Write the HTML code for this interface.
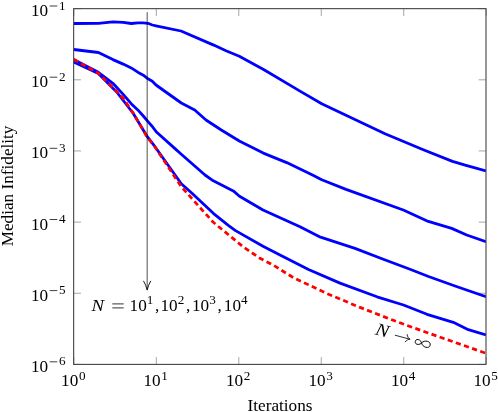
<!DOCTYPE html>
<html><head><meta charset="utf-8"><title>chart</title>
<style>
html,body{margin:0;padding:0;background:#fff;}
body{width:498px;height:412px;overflow:hidden;font-family:"Liberation Serif",serif;}
svg{display:block;will-change:transform;}
text{font-family:"Liberation Serif",serif;fill:#000;}
.t{font-size:17.2px;}
.s{font-size:13.2px;}
.d{font-size:17.2px;}
.m{font-size:17.2px;font-style:italic;}
</style></head><body>
<svg width="498" height="412" viewBox="0 0 498 412">
<rect x="0" y="0" width="498" height="412" fill="#fff"/>
<path d="M73.85,364.4v-7.3 M73.85,8.65v7.3 M73.65,8.65h7.3 M486.0,8.65h-7.3 M156.32,364.4v-7.3 M156.32,8.65v7.3 M73.65,79.80h7.3 M486.0,79.80h-7.3 M238.79,364.4v-7.3 M238.79,8.65v7.3 M73.65,150.95h7.3 M486.0,150.95h-7.3 M321.26,364.4v-7.3 M321.26,8.65v7.3 M73.65,222.10h7.3 M486.0,222.10h-7.3 M403.73,364.4v-7.3 M403.73,8.65v7.3 M73.65,293.25h7.3 M486.0,293.25h-7.3 M486.20,364.4v-7.3 M486.20,8.65v7.3 M73.65,364.40h7.3 M486.0,364.40h-7.3" stroke="#808080" stroke-width="0.7" fill="none"/>
<clipPath id="cp"><rect x="73.65" y="8.65" width="412.35" height="355.75"/></clipPath>
<g clip-path="url(#cp)" fill="none" stroke-linejoin="round">
<polyline points="73.6,23.5 98.4,23.3 112.9,21.8 123.2,22.3 131.2,23.5 137.8,22.8 143.3,22.8 148.0,23.3 152.3,25.0 156.0,25.8 181.0,31.0 213.7,45.1 226.0,50.8 239.3,56.3 264.0,69.7 300.0,91.1 321.7,103.8 385.0,133.7 423.3,149.8 452.5,161.4 466.0,165.3 486.0,171.0" stroke="#0000ff" stroke-width="2.8"/>
<polyline points="73.6,49.5 98.4,52.5 112.9,59.6 123.2,64.1 131.2,67.9 137.8,72.2 143.3,75.2 148.0,78.8 152.3,81.2 156.0,85.0 181.3,103.0 194.7,110.0 206.0,120.0 221.3,130.0 239.3,141.0 263.3,153.1 286.7,162.6 313.0,175.2 321.7,179.8 346.0,189.4 403.3,210.0 428.3,221.4 451.7,228.4 466.7,235.0 486.0,241.7" stroke="#0000ff" stroke-width="2.8"/>
<polyline points="73.6,59.4 98.4,72.3 112.9,83.3 123.2,94.4 131.2,103.7 137.8,109.9 143.3,116.0 148.0,121.6 152.3,126.5 156.7,132.3 175.0,148.6 181.3,154.2 205.0,175.0 213.3,180.8 233.3,190.9 239.5,196.2 263.0,210.0 300.0,226.7 320.5,237.2 355.0,248.4 383.3,259.2 410.0,269.2 428.5,276.5 455.0,286.0 486.0,296.7" stroke="#0000ff" stroke-width="2.8"/>
<polyline points="73.6,62.0 98.4,73.5 112.9,88.3 116.7,92.0 133.3,113.5 147.3,136.7 155.0,146.7 181.3,183.8 192.0,193.3 213.3,213.3 228.3,225.3 235.5,230.6 263.0,246.3 280.0,255.0 308.5,269.5 340.0,283.1 377.0,296.8 403.5,305.0 427.0,314.3 453.3,322.3 468.3,329.7 486.0,335.0" stroke="#0000ff" stroke-width="2.8"/>
<polyline points="73.6,59.3 98.4,73.3 112.9,87.5 123.2,98.3 133.3,113.3 147.0,136.7 155.0,147.0 181.3,186.7 213.0,222.0 243.0,246.7 260.0,258.3 273.0,265.0 293.3,277.6 326.7,293.4 360.0,307.4 398.7,322.4 426.0,332.2 486.0,353.3" stroke="#ff0000" stroke-width="2.75" stroke-dasharray="5.16 3.44"/>
</g>
<path d="M147.16,12.2V289" stroke="#000" stroke-width="0.69" fill="none"/>
<path d="M143.7,281.2 Q146,285 147.16,290.1 Q148.3,285 150.6,281.2" stroke="#000" stroke-width="0.9" fill="none" stroke-linecap="round" stroke-linejoin="round"/>
<rect x="73.65" y="8.65" width="412.35" height="355.75" fill="none" stroke="#444" stroke-width="1.1"/>
<text x="30.9" y="16.0" class="d">10</text><path d="M49.7,6.0h7.6" stroke="#000" stroke-width="0.75" fill="none"/><text x="59.0" y="9.5" class="s">1</text>
<text x="30.9" y="87.2" class="d">10</text><path d="M49.7,77.2h7.6" stroke="#000" stroke-width="0.75" fill="none"/><text x="59.0" y="80.7" class="s">2</text>
<text x="30.9" y="158.3" class="d">10</text><path d="M49.7,148.3h7.6" stroke="#000" stroke-width="0.75" fill="none"/><text x="59.0" y="151.8" class="s">3</text>
<text x="30.9" y="229.5" class="d">10</text><path d="M49.7,219.5h7.6" stroke="#000" stroke-width="0.75" fill="none"/><text x="59.0" y="223.0" class="s">4</text>
<text x="30.9" y="300.6" class="d">10</text><path d="M49.7,290.6h7.6" stroke="#000" stroke-width="0.75" fill="none"/><text x="59.0" y="294.1" class="s">5</text>
<text x="30.9" y="371.8" class="d">10</text><path d="M49.7,361.8h7.6" stroke="#000" stroke-width="0.75" fill="none"/><text x="59.0" y="365.2" class="s">6</text>
<text x="61.1" y="386.0" class="d">10</text><text x="78.9" y="379.5" class="s">0</text>
<text x="143.5" y="386.0" class="d">10</text><text x="161.3" y="379.5" class="s">1</text>
<text x="226.0" y="386.0" class="d">10</text><text x="243.8" y="379.5" class="s">2</text>
<text x="308.5" y="386.0" class="d">10</text><text x="326.3" y="379.5" class="s">3</text>
<text x="390.9" y="386.0" class="d">10</text><text x="408.7" y="379.5" class="s">4</text>
<text x="473.4" y="386.0" class="d">10</text><text x="491.2" y="379.5" class="s">5</text>
<text x="247.6" y="410.5" class="t">Iterations</text>
<text transform="translate(13.3,246.3) rotate(-90)" class="t">Median Infidelity</text>
<text transform="translate(91.6,310.5) scale(1.09,1)" class="m">N</text><path d="M112.3,303.9h11.4M112.3,307.9h11.4" stroke="#000" stroke-width="0.8" fill="none"/><text x="129.6" y="310.5" class="t">10</text><text x="146.8" y="304.0" class="s">1</text><text x="155.0" y="310.5" class="t">,</text><text x="160.5" y="310.5" class="t">10</text><text x="177.7" y="304.0" class="s">2</text><text x="185.9" y="310.5" class="t">,</text><text x="192.0" y="310.5" class="t">10</text><text x="209.2" y="304.0" class="s">3</text><text x="217.4" y="310.5" class="t">,</text><text x="223.8" y="310.5" class="t">10</text><text x="241.0" y="304.0" class="s">4</text>
<g transform="translate(374.6,334.2) rotate(15)"><text x="0" y="0" class="m" transform="scale(1.15,1.03)">N</text><path d="M19.8,-4.3H35" stroke="#000" stroke-width="0.75" fill="none"/><path d="M31.6,-8 C32.3,-6 33.8,-4.9 35.6,-4.3 C33.8,-3.7 32.3,-2.6 31.6,-0.6" stroke="#000" stroke-width="0.75" fill="none" stroke-linecap="round"/><path transform="translate(41.2,0)" d="M6.4,-3.7 C8.3,-7.6 15.3,-8 15.3,-3.7 C15.3,0.6 8.3,0.2 6.4,-3.7 C5,-6.7 0,-7.3 0,-3.7 C0,-0.1 5,-0.7 6.4,-3.7 Z" stroke="#000" stroke-width="0.9" fill="none"/></g>
</svg></body></html>
